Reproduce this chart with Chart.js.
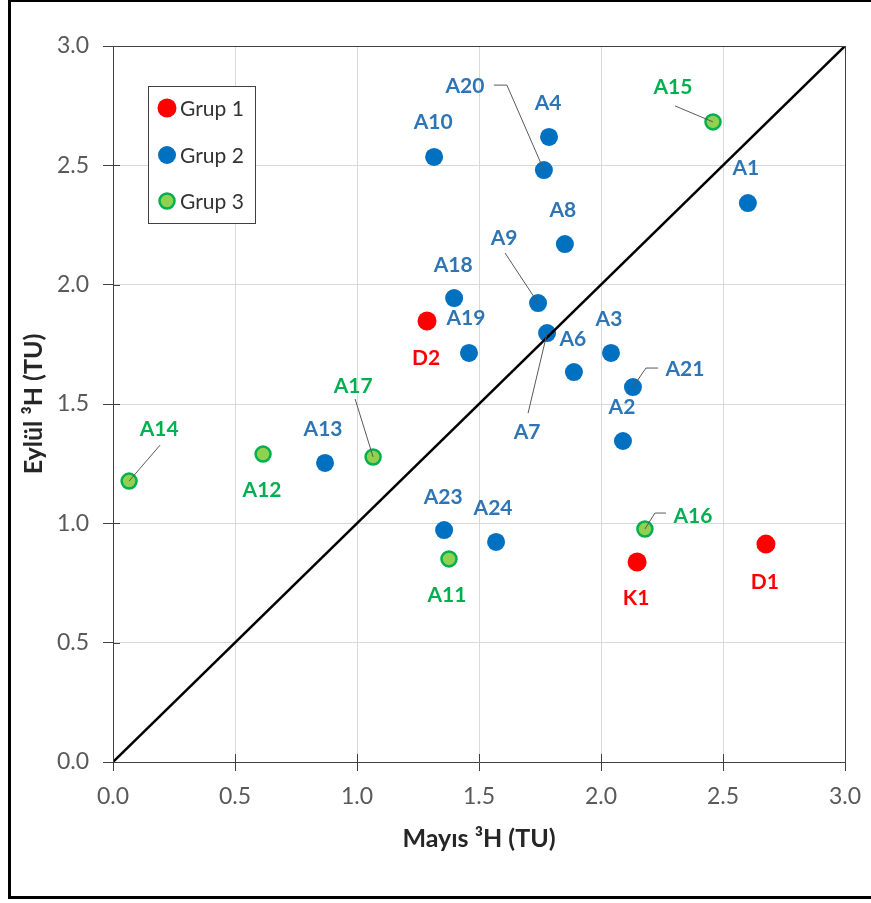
<!DOCTYPE html>
<html>
<head>
<meta charset="utf-8">
<script src="https://cdn.jsdelivr.net/npm/chart.js@4.4.0/dist/chart.umd.min.js"></script>
<style>
  html, body { margin: 0; padding: 0; background: #fff; overflow: hidden; }
  #wrap { position: relative; width: 871px; height: 903px; }
  #frame { position: absolute; left: 8px; top: -1px; width: 880px; height: 894px; border: 3px solid #000; }
</style>
</head>
<body>
<div id="wrap">
  <canvas id="myChart" width="871" height="903"></canvas>
  <div id="frame"></div>
</div>
<script>
/*================== DATA =================*/
const grup1Names = ['D1', 'D2', 'K1'];
const grup1X = [2.676, 1.287, 2.148];
const grup1Y = [0.913, 1.848, 0.838];

const grup2Names = ['A1', 'A2', 'A3', 'A4', 'A6', 'A7', 'A8', 'A9', 'A10', 'A13', 'A18', 'A19', 'A20', 'A21', 'A23', 'A24'];
const grup2X = [2.602, 2.090, 2.041, 1.787, 1.889, 1.779, 1.852, 1.742, 1.316, 0.869, 1.398, 1.459, 1.766, 2.131, 1.357, 1.570];
const grup2Y = [2.342, 1.345, 1.714, 2.619, 1.634, 1.797, 2.170, 1.923, 2.535, 1.253, 1.944, 1.714, 2.480, 1.571, 0.972, 0.922];

const grup3Names = ['A11', 'A12', 'A14', 'A15', 'A16', 'A17'];
const grup3X = [1.377, 0.615, 0.066, 2.459, 2.180, 1.066];
const grup3Y = [0.851, 1.290, 1.177, 2.682, 0.976, 1.278];

const lineX = [0, 3];
const lineY = [0, 3];

const tickValues = [0, 0.5, 1.0, 1.5, 2.0, 2.5, 3.0];
const groupLabels = ['Grup 1', 'Grup 2', 'Grup 3'];

/*================== LABEL PLACEMENT (px offsets from point) =================*/
const labelPlace = {
  A1: {dx: -2, dy: -35}, A2: {dx: -1, dy: -34}, A3: {dx: -2, dy: -34}, A4: {dx: -1, dy: -34},
  A6: {dx: -1, dy: -33}, A7: {dx: -20, dy: 99, leader: [[-19, 80]]},
  A8: {dx: -2, dy: -34}, A9: {dx: -34, dy: -65, leader: [[-33, -50]]},
  A10: {dx: -1, dy: -35}, A13: {dx: -2, dy: -34}, A18: {dx: -1, dy: -33}, A19: {dx: -3, dy: -35},
  A20: {dx: -79, dy: -84, leader: [[-37, -85], [-50, -85]]},
  A21: {dx: 52, dy: -18, leader: [[13, -19], [25, -19]]},
  A23: {dx: -1, dy: -33}, A24: {dx: -3, dy: -34},
  A11: {dx: -2, dy: 36}, A12: {dx: -1, dy: 36},
  A14: {dx: 30, dy: -52, leader: [[31, -36]]},
  A15: {dx: -40, dy: -35, leader: [[-38, -16]]},
  A16: {dx: 48, dy: -13, leader: [[10, -16], [21, -16]]},
  A17: {dx: -20, dy: -71, leader: [[-18, -58]]},
  D1: {dx: -1, dy: 38}, D2: {dx: -1, dy: 37}, K1: {dx: -1, dy: 36}
};

const FONT = 'Lato, Calibri, Carlito, sans-serif';
const labelColors = ['#FF0000', '#2E75B6', '#00B050'];
const groupNames = [grup1Names, grup2Names, grup3Names];

function toPoints(xs, ys) {
  return xs.map((x, i) => ({x: x, y: ys[i]}));
}

/*================== PLUGINS =================*/
const pointLabels = {
  id: 'pointLabels',
  afterDatasetsDraw(chart) {
    const c = chart.ctx;
    c.save();
    for (let d = 0; d < 3; d++) {
      const meta = chart.getDatasetMeta(d + 1);
      meta.data.forEach((el, i) => {
        const name = groupNames[d][i];
        const p = labelPlace[name];
        if (!p) return;
        if (p.leader) {
          c.strokeStyle = '#595959';
          c.lineWidth = 1;
          c.beginPath();
          c.moveTo(el.x, el.y);
          p.leader.forEach(o => c.lineTo(el.x + o[0], el.y + o[1]));
          c.stroke();
        }
        c.fillStyle = labelColors[d];
        c.font = 'bold 21px ' + FONT;
        c.textAlign = 'center';
        c.textBaseline = 'middle';
        c.fillText(name, el.x + p.dx, el.y + p.dy);
      });
    }
    c.restore();
  }
};

const frameAndLegend = {
  id: 'frameAndLegend',
  afterDraw(chart) {
    const c = chart.ctx;
    const a = chart.chartArea;
    const xs = chart.scales.x, ys = chart.scales.y;
    c.save();
    c.strokeStyle = '#404040';
    c.lineWidth = 1;
    c.beginPath();
    // top and right border of plot
    c.moveTo(a.left, Math.round(a.top) + 0.5);
    c.lineTo(a.right, Math.round(a.top) + 0.5);
    c.moveTo(Math.round(a.right) + 0.5, a.top);
    c.lineTo(Math.round(a.right) + 0.5, a.bottom);
    // inner half of cross tick marks
    tickValues.forEach(v => {
      const px = Math.round(xs.getPixelForValue(v)) + 0.5;
      c.moveTo(px, a.bottom);
      c.lineTo(px, a.bottom - 8);
      const py = Math.round(ys.getPixelForValue(v)) + 0.5;
      c.moveTo(a.left, py);
      c.lineTo(a.left + 7, py);
    });
    c.stroke();

    // legend box
    c.fillStyle = '#fff';
    c.fillRect(148, 86, 108, 138);
    c.strokeStyle = '#404040';
    c.strokeRect(148.5, 86.5, 107, 137);
    const rows = [108, 155, 201];
    chart.data.datasets.slice(1).forEach((ds, i) => {
      c.beginPath();
      c.arc(167, rows[i], ds.pointRadius, 0, Math.PI * 2);
      c.fillStyle = ds.backgroundColor;
      c.fill();
      if (ds.borderWidth) {
        c.lineWidth = ds.borderWidth;
        c.strokeStyle = ds.borderColor;
        c.stroke();
      }
      c.fillStyle = '#333';
      c.font = '21px ' + FONT;
      c.textAlign = 'left';
      c.textBaseline = 'middle';
      c.fillText(groupLabels[i], 180, rows[i] + 1);
    });
    c.restore();
  }
};

/*================== CHART JS =================*/
const ctx = document.getElementById('myChart');

new Chart(ctx, {
  type: 'scatter',
  data: {
    datasets: [
      {
        type: 'line',
        label: 'y = x',
        data: toPoints(lineX, lineY),
        borderColor: '#000',
        borderWidth: 2.5,
        pointRadius: 0,
        fill: false
      },
      {
        label: groupLabels[0],
        data: toPoints(grup1X, grup1Y),
        backgroundColor: '#FF0000',
        borderColor: '#FF0000',
        borderWidth: 0,
        pointRadius: 9.5
      },
      {
        label: groupLabels[1],
        data: toPoints(grup2X, grup2Y),
        backgroundColor: '#0070C0',
        borderColor: '#0070C0',
        borderWidth: 0,
        pointRadius: 9
      },
      {
        label: groupLabels[2],
        data: toPoints(grup3X, grup3Y),
        backgroundColor: '#92D050',
        borderColor: '#00B050',
        borderWidth: 2.5,
        pointRadius: 7.5
      }
    ]
  },
  options: {
    responsive: false,
    animation: false,
    layout: {
      padding: {left: 15, top: 46, right: 26, bottom: 45}
    },
    plugins: {
      legend: {display: false},
      tooltip: {enabled: false}
    },
    scales: {
      x: {
        type: 'linear',
        min: 0,
        max: 3,
        afterFit: s => { s.height = 96; s.paddingLeft = 0; s.paddingRight = 0; },
        afterBuildTicks: s => { s.ticks = tickValues.map(v => ({value: v})); },
        ticks: {
          color: '#595959',
          font: {family: FONT, size: 23},
          padding: 12,
          callback: v => v.toFixed(1)
        },
        grid: {color: '#d9d9d9', tickColor: '#404040', tickLength: 9},
        border: {color: '#404040', width: 1},
        title: {
          display: true,
          text: 'Mayıs ³H (TU)',
          color: '#262626',
          font: {family: FONT, size: 25, weight: 'bold'}
        }
      },
      y: {
        type: 'linear',
        min: 0,
        max: 3,
        afterFit: s => { s.width = 98; s.paddingTop = 0; s.paddingBottom = 0; },
        afterBuildTicks: s => { s.ticks = tickValues.map(v => ({value: v})); },
        ticks: {
          color: '#595959',
          font: {family: FONT, size: 23},
          padding: 14,
          callback: v => v.toFixed(1)
        },
        grid: {color: '#d9d9d9', tickColor: '#404040', tickLength: 10},
        border: {color: '#404040', width: 1},
        title: {
          display: true,
          text: 'Eylül ³H (TU)',
          color: '#262626',
          font: {family: FONT, size: 25, weight: 'bold'}
        }
      }
    }
  },
  plugins: [pointLabels, frameAndLegend]
});
</script>
</body>
</html>
